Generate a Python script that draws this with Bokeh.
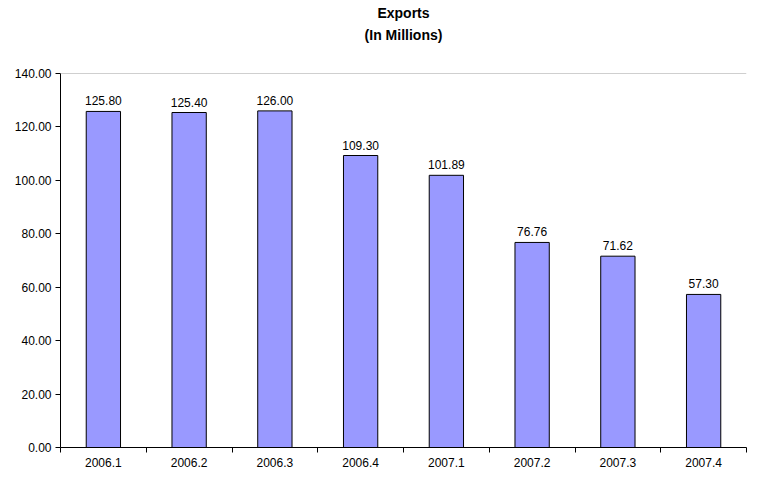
from bokeh.plotting import figure
from bokeh.models import (Range1d, FixedTicker, NumeralTickFormatter, Title,
                          ColumnDataSource, Span)
from bokeh.core.properties import value
from bokeh.embed import file_html
from bokeh.resources import INLINE

categories = ["2006.1", "2006.2", "2006.3", "2006.4", "2007.1", "2007.2", "2007.3", "2007.4"]
exports = [125.80, 125.40, 126.00, 109.30, 101.89, 76.76, 71.62, 57.30]
y_ticks = [0, 20, 40, 60, 80, 100, 120, 140]

FONT = "Liberation Sans"

n = len(categories)
centers = [i + 0.5 for i in range(n)]
src = ColumnDataSource(dict(x=centers, top=exports,
                            label=["%.2f" % v for v in exports]))

p = figure(width=748, height=469, output_backend="svg", toolbar_location=None,
           x_range=Range1d(0, n), y_range=Range1d(0, 140),
           min_border_left=60, min_border_right=2, min_border_bottom=20,
           min_border_top=0)
p.title = None

spacer = Title(text=" ", align="center", text_font=FONT,
               text_font_size="20px", standoff=5)
sub = Title(text="(In Millions)", align="center", text_font=FONT,
            text_font_size="14px", text_font_style="bold", standoff=3,
            text_color="#000000")
main = Title(text="Exports", align="center", text_font=FONT,
             text_font_size="14px", text_font_style="bold", standoff=5,
             text_color="#000000")
p.add_layout(spacer, "above")
p.add_layout(sub, "above")
p.add_layout(main, "above")

p.vbar(x="x", top="top", bottom=0, width=0.4, source=src,
       fill_color="#9999FF", line_color="#000000", line_width=1)
p.text(x="x", y="top", text="label", source=src, text_align="center",
       text_baseline="bottom", y_offset=-6, text_font=value(FONT),
       text_font_size="12px", text_color="#000000")

p.add_layout(Span(location=140, dimension="width", line_color="#a0a0a0", line_width=1))

p.xgrid.visible = False
p.ygrid.visible = False
p.outline_line_color = None
p.background_fill_color = "white"
p.border_fill_color = "white"

xa = p.xaxis[0]
xa.ticker = FixedTicker(ticks=centers, minor_ticks=list(range(n + 1)))
xa.major_label_overrides = {c: lab for c, lab in zip(centers, categories)}
xa.major_tick_out = 0
xa.major_tick_in = 0
xa.minor_tick_out = 5
xa.minor_tick_in = 0
xa.minor_tick_line_color = "#000000"
xa.axis_line_color = "#000000"
xa.major_label_text_font = FONT
xa.major_label_text_font_size = "12px"
xa.major_label_text_color = "#000000"
xa.major_label_standoff = 5
xa.axis_label_standoff = 0

ya = p.yaxis[0]
ya.ticker = FixedTicker(ticks=y_ticks)
ya.formatter = NumeralTickFormatter(format="0.00")
ya.major_tick_out = 5
ya.major_tick_in = 0
ya.minor_tick_out = 0
ya.minor_tick_in = 0
ya.axis_line_color = "#000000"
ya.major_tick_line_color = "#000000"
ya.major_label_text_font = FONT
ya.major_label_text_font_size = "12px"
ya.major_label_text_color = "#000000"
ya.major_label_standoff = 4
ya.axis_label_standoff = 0

open("out.html", "w").write(file_html(p, INLINE))
